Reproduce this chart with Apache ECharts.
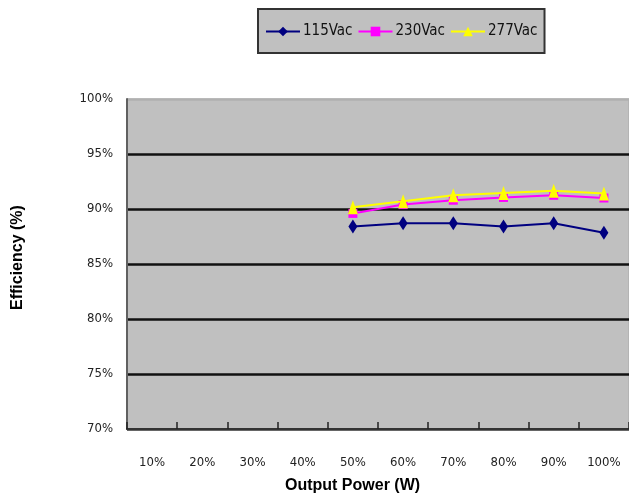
<!DOCTYPE html>
<html><head><meta charset="utf-8">
<script src="https://cdn.jsdelivr.net/npm/echarts@6/dist/echarts.min.js"></script>
<style>html,body{margin:0;padding:0;background:#fff}#c{width:629px;height:501px}</style>
</head><body><div id="c"></div>
<script>
const categories = ['10%','20%','30%','40%','50%','60%','70%','80%','90%','100%'];
const v115 = [null,null,null,null,88.4,88.7,88.7,88.4,88.7,87.85];
const v230 = [null,null,null,null,89.6,90.4,90.8,91.05,91.25,91.0];
const v277 = [null,null,null,null,90.15,90.7,91.25,91.45,91.65,91.4];
const seriesNames = ['115Vac','230Vac','277Vac'];
const yTicks = [70,75,80,85,90,95,100];

const chart = echarts.init(document.getElementById('c'), null, {renderer:'canvas'});
const narrow = "'DejaVu Sans Condensed','Liberation Sans Narrow',sans-serif";
chart.setOption({
  animation:false,
  backgroundColor:'#ffffff',
  grid:{left:127,right:-3,top:99,bottom:72,show:true,backgroundColor:'#c0c0c0',borderColor:'#a8a8a8',borderWidth:1},
  legend:{
    data:seriesNames,left:258,top:9,
    backgroundColor:'#c0c0c0',borderColor:'#333',borderWidth:2,borderRadius:0,
    padding:[15,7,14,7],itemGap:5,itemWidth:34,itemHeight:12,
    textStyle:{fontFamily:narrow,fontSize:15,color:'#111',padding:[0,0,0,-2]}
  },
  xAxis:{
    type:'category',data:categories,boundaryGap:true,
    axisLine:{lineStyle:{color:'#333',width:2}},
    axisTick:{show:true,inside:true,length:7,interval:0,lineStyle:{color:'#222',width:1.5}},
    axisLabel:{fontFamily:narrow,fontSize:13,color:'#222',margin:27},
    splitLine:{show:false},
    z:10
  },
  yAxis:{
    type:'value',min:yTicks[0],max:yTicks[yTicks.length-1],interval:5,
    axisLine:{show:true,lineStyle:{color:'#606060',width:2}},
    axisTick:{show:false},
    axisLabel:{fontFamily:narrow,fontSize:13,color:'#222',margin:14,formatter:'{value}%'},
    splitLine:{show:true,lineStyle:{color:['#333','#111','#111','#111','#111','#111','#b0b0b0'],width:2.5}}
  },
  graphic:[
    {type:'text',left:285,top:478,style:{text:'Output Power (W)',font:"bold 16px 'Liberation Sans',Arial,sans-serif",fill:'#000'}},
    {type:'text',x:10,y:310,rotation:Math.PI/2,style:{text:'Efficiency (%)',font:"bold 16px 'Liberation Sans',Arial,sans-serif",fill:'#000'}}
  ],
  series:[
    {name:seriesNames[0],type:'line',data:v115,color:'#000080',symbol:'diamond',symbolSize:[9,14],lineStyle:{width:2,color:'#000080'},itemStyle:{color:'#000080'},z:3},
    {name:seriesNames[1],type:'line',data:v230,color:'#ff00ff',symbol:'rect',symbolSize:[9,9],lineStyle:{width:2,color:'#ff00ff'},itemStyle:{color:'#ff00ff'},z:4},
    {name:seriesNames[2],type:'line',data:v277,color:'#ffff00',symbol:'triangle',symbolSize:[10,14],lineStyle:{width:2,color:'#ffff00'},itemStyle:{color:'#ffff00'},z:5}
  ]
});
</script></body></html>
